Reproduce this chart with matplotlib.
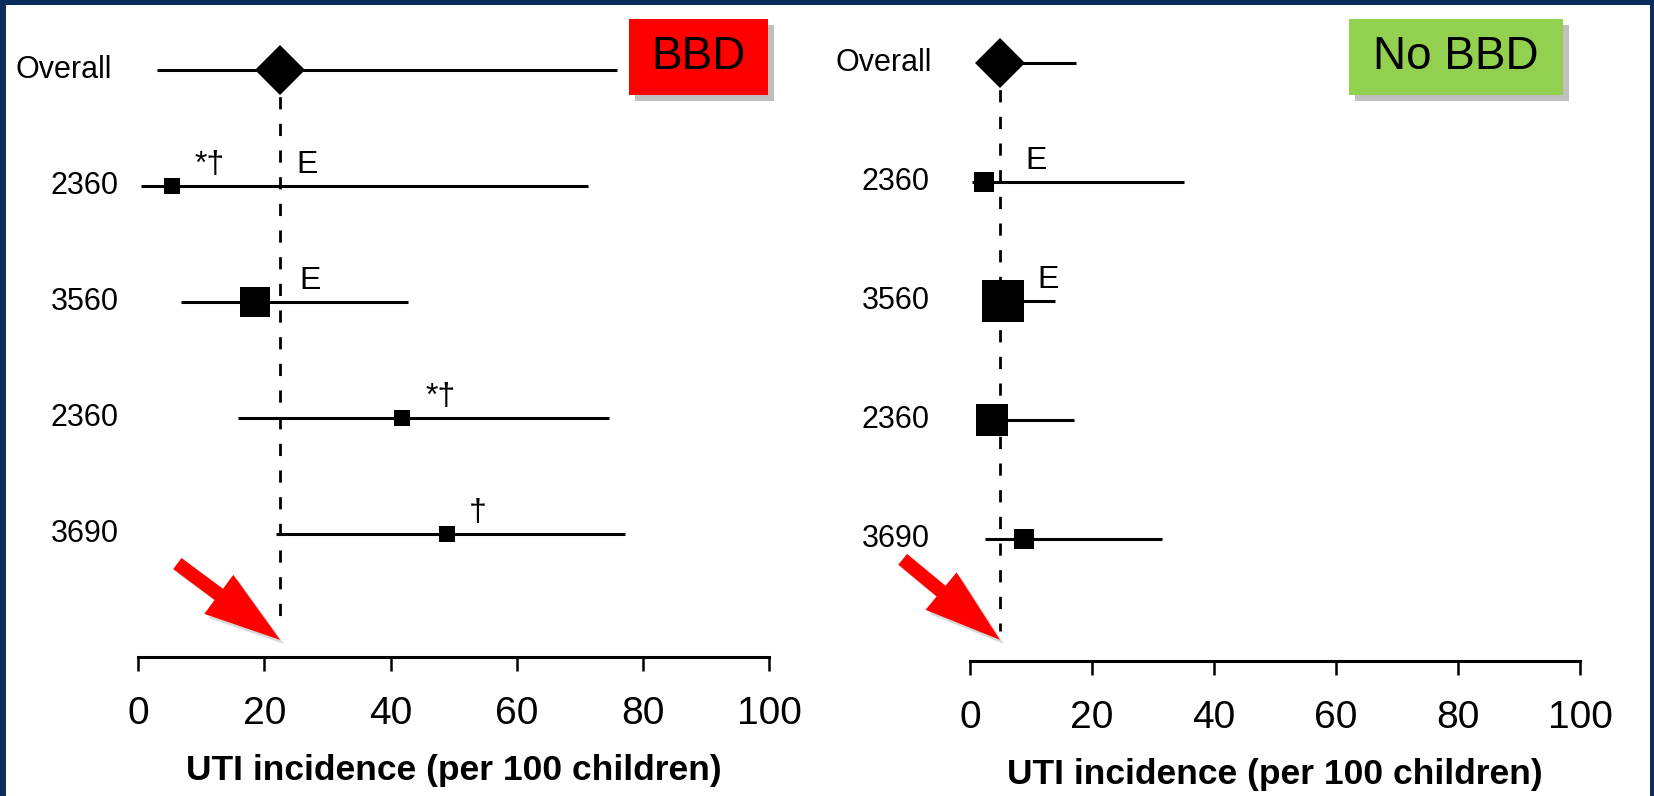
import matplotlib
matplotlib.use("Agg")
import matplotlib.pyplot as plt
import matplotlib.patheffects as pe
from matplotlib.patches import Rectangle

plt.rcParams['font.family'] = ['Liberation Sans', 'DejaVu Sans']

W, H = 1654, 796

rows = ["Overall", "2360", "3560", "2360", "3690"]

# BBD: UTI incidence per 100 children, estimate + 95% CI
bbd_est = [22.5, 5.3, 18.5, 41.8, 49.0]
bbd_lo = [3.0, 0.5, 6.8, 15.8, 21.8]
bbd_hi = [75.9, 71.3, 42.8, 74.6, 77.2]

# No BBD
nobbd_est = [4.9, 2.3, 5.4, 3.6, 8.9]
nobbd_lo = [1.5, 0.4, 2.5, 1.5, 2.5]
nobbd_hi = [17.4, 35.0, 13.9, 17.0, 31.5]

xticks = [0, 20, 40, 60, 80, 100]
xlabel = "UTI incidence (per 100 children)"

# footnote marks: (row, text, x)
bbd_marks = [(1, "*\u2020", 9.0), (1, "E", 25.0), (2, "E", 25.5),
             (3, "*\u2020", 45.5), (4, "\u2020", 52.4)]
nobbd_marks = [(1, "E", 9.0), (2, "E", 11.1)]

# square sizes (pt) for the study boxes
bbd_box = [11.5, 22.3, 11.5, 11]
nobbd_box = [14.4, 30, 23, 14.4]

navy = '#0B2D5E'

fig = plt.figure(figsize=(W / 100, H / 100), dpi=100, facecolor=navy)
fig.add_artist(Rectangle((6 / W, 0), 1644 / W, 791 / H, transform=fig.transFigure,
                         fc='white', ec='none', zorder=-10))


def panel(rect, ylim, est, lo, hi, boxes, marks, lab_x, overall_x, overall_ha, arrow_off):
    ax = fig.add_axes(rect)
    ax.set_facecolor('none')
    ax.set_xlim(0, 100)
    ax.set_ylim(*ylim)
    for s in ['left', 'top', 'right']:
        ax.spines[s].set_visible(False)
    ax.spines['bottom'].set_linewidth(2.2)
    ax.set_yticks([])
    ax.set_xticks(xticks)
    ax.tick_params(axis='x', direction='out', length=10, width=1.8, labelsize=28, pad=18)
    ax.set_xlabel(xlabel, fontsize=25.5, fontweight='bold', labelpad=16)

    ys = list(range(len(rows)))
    ax.hlines(ys, lo, hi, color='black', lw=2.2, zorder=2)
    ax.vlines(est[0], 0, 4.77, color='black', lw=2, linestyle=(0, (4.4, 5.2)), zorder=1)
    ax.plot(est[0], 0, marker='D', ms=25, color='black', mew=0, zorder=3)
    for i in range(1, len(rows)):
        ax.plot(est[i], i, marker='s', ms=boxes[i - 1], color='black', mew=0, zorder=3)

    tr = ax.get_yaxis_transform()
    ax.text(overall_x, 0, rows[0], transform=tr, ha=overall_ha, va='center', fontsize=22)
    for i in range(1, len(rows)):
        ax.text(lab_x, i, rows[i], transform=tr, ha='right', va='center', fontsize=22)

    for r, t, x in marks:
        ax.annotate(t, xy=(x, r), xytext=(0, 4), textcoords='offset points',
                    ha='left', va='bottom', fontsize=23)

    ax.annotate('', xy=(est[0], arrow_off[0]), xycoords=('data', 'axes fraction'),
                xytext=arrow_off[1], textcoords='offset points',
                arrowprops=dict(arrowstyle='simple,head_length=5.5,head_width=3.5,tail_width=1.0',
                                mutation_scale=10, fc='red', ec='none', shrinkA=0, shrinkB=0,
                                path_effects=[pe.SimplePatchShadow(offset=(3, -3), shadow_rgbFace='gray', alpha=0.3),
                                              pe.Normal()]))
    return ax


panel([138.2 / W, (H - 657) / H, 630.8 / W, 657 / H], (5.06, -0.603),
      bbd_est, bbd_lo, bbd_hi, bbd_box, bbd_marks, -0.031, -0.195, 'left',
      (0.026, (-74, 55)))
panel([970 / W, (H - 661) / H, 610 / W, 661 / H], (5.025, -0.529),
      nobbd_est, nobbd_lo, nobbd_hi, nobbd_box, nobbd_marks, -0.066, -0.062, 'right',
      (0.032, (-70, 58)))


def label_box(x0, x1, y0, y1, color, text):
    r = Rectangle((x0 / W, 1 - y1 / H), (x1 - x0) / W, (y1 - y0) / H, transform=fig.transFigure,
                  fc=color, ec='none', zorder=5,
                  path_effects=[pe.SimplePatchShadow(offset=(4, -4), shadow_rgbFace='gray', alpha=0.5),
                                pe.Normal()])
    fig.add_artist(r)
    fig.text((x0 + x1) / 2 / W, 1 - (y0 + y1) / 2 / H, text, ha='center', va='center',
             fontsize=33, zorder=6)


label_box(629, 768, 19, 95, '#FF0000', 'BBD')
label_box(1349, 1563, 19, 95, '#92D050', 'No BBD')

fig.savefig('out.png', dpi=100, facecolor=fig.get_facecolor())
